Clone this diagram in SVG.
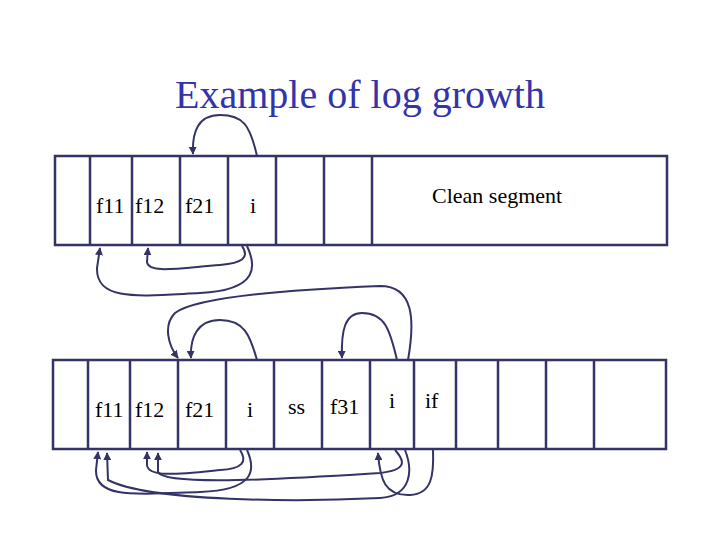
<svg xmlns="http://www.w3.org/2000/svg" width="720" height="540" viewBox="0 0 720 540">
<defs>
<style>
.c{fill:none;stroke:#333366;stroke-width:2.5}
.l{fill:none;stroke:#333366;stroke-width:2}
.t{font-family:"Liberation Serif",serif;font-size:22px;fill:#000}
.h{font-family:"Liberation Serif",serif;font-size:40px;fill:#3333aa}
</style>
<marker id="a" viewBox="0 0 10 10" refX="9" refY="5" markerWidth="4" markerHeight="4" orient="auto"><path d="M0,0L10,5L0,10z" fill="#333366"/></marker>
</defs>
<rect width="720" height="540" fill="#fff"/>
<text class="h" x="360" y="108" text-anchor="middle">Example of log growth</text>
<g id="seg1">
<rect class="c" x="55" y="156" width="612" height="89"/>
<path class="c" d="M90,156V245M132,156V245M180,156V245M228,156V245M276,156V245M324,156V245M372,156V245"/>
<text class="t" x="96" y="213">f11</text><text class="t" x="135" y="213">f12</text><text class="t" x="185" y="213">f21</text><text class="t" x="250" y="213">i</text>
<text class="t" x="432" y="203">Clean segment</text>
</g>
<g id="seg2">
<rect class="c" x="53" y="360" width="613" height="89"/>
<path class="c" d="M88,360V449M130,360V449M178,360V449M226,360V449M274,360V449M322,360V449M370,360V449M414,360V449M456,360V449M498,360V449M546,360V449M594,360V449"/>
<text class="t" x="95" y="417">f11</text><text class="t" x="135" y="417">f12</text><text class="t" x="185" y="417">f21</text><text class="t" x="247" y="417">i</text>
<text class="t" x="288" y="414" font-size="20">ss</text><text class="t" x="330" y="414">f31</text><text class="t" x="389" y="408">i</text><text class="t" x="425" y="408">if</text>
</g>
<g id="connectors">
<path class="l" marker-end="url(#a)" d="M257,156 C250,125 243,115 220,115 C198,115 192,132 193,154"/>
<path class="l" marker-end="url(#a)" d="M242,246 C250,258 242,263 220,265 C180,268 148,274 147,262 L148,248"/>
<path class="l" marker-end="url(#a)" d="M247,246 C256,265 260,290 200,293 C140,296 96,302 97,268 L100,248"/>
<path class="l" marker-end="url(#a)" d="M408,360 C415,320 414,286 380,286 C330,288 200,294 175,313 C163,325 168,345 178,358"/>
<path class="l" marker-end="url(#a)" d="M257,360 C250,335 244,320 220,320 C197,320 190,338 191,358"/>
<path class="l" marker-end="url(#a)" d="M397,360 C390,330 385,313 362,313 C345,313 341,330 342,358"/>
<path class="l" marker-end="url(#a)" d="M240,450 C248,462 242,469 220,470 C180,474 148,478 147,465 L147,452"/>
<path class="l" marker-end="url(#a)" d="M247,450 C256,470 255,490 200,492 C140,494 95,500 96,470 L98,452"/>
<path class="l" marker-end="url(#a)" d="M395,450 C406,462 406,470 380,473 C300,478 165,487 158,472 L158,453"/>
<path class="l" marker-end="url(#a)" d="M405,450 C413,470 412,496 380,498 C300,502 150,502 108,480 L107,453"/>
<path class="l" marker-end="url(#a)" d="M433,450 C434,475 432,494 410,495 C385,496 380,480 378,453"/>
</g>
</svg>
